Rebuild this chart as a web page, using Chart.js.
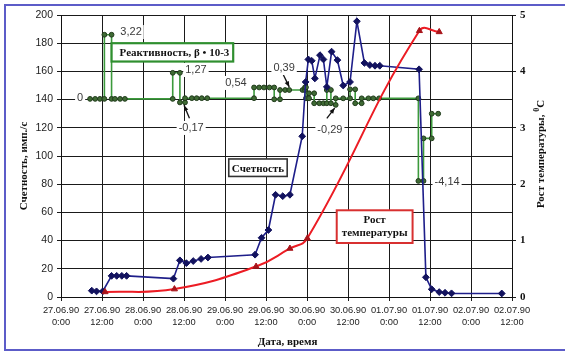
<!DOCTYPE html>
<html><head><meta charset="utf-8">
<script src="https://cdn.jsdelivr.net/npm/chart.js@4.4.0/dist/chart.umd.min.js"></script>
<style>html,body{margin:0;padding:0;background:#fff;}canvas{display:block;}</style>
</head><body>
<canvas id="c" width="565" height="354"></canvas>
<script>
// x values are hours since 27.06.90 0:00
const xDates = ['27.06.90','27.06.90','28.06.90','28.06.90','29.06.90','29.06.90','30.06.90','30.06.90','01.07.90','01.07.90','02.07.90','02.07.90'];
const xTimes = ['0:00','12:00','0:00','12:00','0:00','12:00','0:00','12:00','0:00','12:00','0:00','12:00'];

// Счетность, имп./c (left axis)
const countHours  = [9.0,10.4,12.2, 14.8,16.3,17.8,19.2, 32.9, 34.8,36.7,38.7,41.0,43.0, 56.8,58.7,60.7, 62.8,64.9,67.0, 70.6,
                     71.6,72.4,73.4,74.3,75.8,76.8,77.8,79.2,80.9,82.6,84.6,86.6, 88.8,90.4,91.9,93.3, 104.8,
                     106.8,108.5,110.7,112.4,114.3,129.0];
const countValues = [4.5,4.0,4.0, 15,15,15,15, 13, 26,24,25.5,27,28, 30,42,47.5, 72.5,71.5,72.5, 114,
                     152.5,168.5,167.5,155,171.5,168.5,149,174,168,150,152.5,195.5, 166,164.5,164,164, 161.5,
                     14,5.5,3.5,3.0,2.6,2.5];

// Рост температуры, °C (right axis)
const tempHours  = [12.9, 33.2, 57.1, 67.0, 72.1, 104.9, 110.7];
const tempValues = [0.09, 0.14, 0.54, 0.86, 1.04, 4.72, 4.70];

// Реактивность (drawn against the left axis)
const reactHours  = [8.5,10.0,11.4,12.7,12.7,14.8,14.8,15.8,17.3,18.7,
                     32.7,32.7,34.8,34.8,36.3,36.3,38.3,39.7,41.2,42.8,
                     56.5,56.5,58.0,59.4,61.0,62.4,62.4,64.1,64.1,65.6,66.8,70.7,
                     71.4,71.4,71.7,71.7,72.6,72.6,74.1,74.1,75.6,76.8,77.8,77.8,79.0,79.0,80.4,80.4,
                     82.6,84.6,84.6,86.1,86.1,88.0,88.0,90.0,91.4,93.1,
                     104.6,104.6,106.1,106.1,108.5,108.5,110.4];
const reactLevels = [140.5,140.5,140.5,140.5,186,186,140.5,140.5,140.5,140.5,
                     140.5,159,159,138,138,141,141,141,141,141,
                     141,148.6,148.6,148.6,148.6,148.6,140.2,140.2,146.8,146.8,146.8,146.8,
                     146.8,148.7,148.7,140.9,140.9,144.5,144.5,137.4,137.4,137.4,137.4,146.8,146.8,137.4,136.2,140.9,
                     140.9,140.9,147.3,147.3,137.4,137.4,140.9,140.9,140.9,140.9,
                     140.9,82.3,82.3,112.5,112.5,130,130];
const reactTexts = ['0','3,22','1,27','-0,17','0,54','0,39','-0,29','-4,14'];

// annotation placement (in data units)
const notePos = [[5.6,141.1],[20.5,187.9],[39.5,161],[38.1,119.9],[51.2,151.8],[65.3,162.4],[78.7,118.4],[113,81.6]];
const arrows = [[[37.6,126.7],[36.0,136.0]],[[65.1,157.4],[66.8,149.0]],[[77.8,126.7],[80.1,134.0]]];

const pts = (xs, ys) => xs.map((x,i)=>({x, y: ys[i]}));

const overlay = {
  id: 'overlay',
  afterDatasetsDraw(chart) {
    const ctx = chart.ctx, xs = chart.scales.x, ys = chart.scales.y;
    const X = h => xs.getPixelForValue(h), Y = v => ys.getPixelForValue(v);
    ctx.save();
    // arrows
    ctx.strokeStyle = '#111'; ctx.fillStyle = '#111'; ctx.lineWidth = 1.3;
    for (const [a,b] of arrows) {
      const x0 = X(a[0]), y0 = Y(a[1]), x1 = X(b[0]), y1 = Y(b[1]);
      const ang = Math.atan2(y1-y0, x1-x0);
      ctx.beginPath(); ctx.moveTo(x0,y0); ctx.lineTo(x1,y1); ctx.stroke();
      ctx.beginPath(); ctx.moveTo(x1,y1);
      ctx.lineTo(x1-6*Math.cos(ang-0.4), y1-6*Math.sin(ang-0.4));
      ctx.lineTo(x1-6*Math.cos(ang+0.4), y1-6*Math.sin(ang+0.4));
      ctx.closePath(); ctx.fill();
    }
    // value labels
    ctx.font = '11px "Liberation Sans", Arial, sans-serif';
    ctx.textAlign = 'center'; ctx.textBaseline = 'middle';
    reactTexts.forEach((t,i) => {
      const px = X(notePos[i][0]), py = Y(notePos[i][1]);
      const w = ctx.measureText(t).width;
      ctx.fillStyle = '#fff'; ctx.fillRect(px - w/2 - 2, py - 7, w + 4, 14);
      ctx.fillStyle = '#3a3a3a'; ctx.fillText(t, px, py);
    });
    // boxes
    const box = (h0,h1,v0,v1,color,lw) => {
      const x0 = X(h0), x1 = X(h1), y0 = Y(v1), y1 = Y(v0);
      ctx.fillStyle = '#fff'; ctx.fillRect(x0, y0, x1-x0, y1-y0);
      ctx.strokeStyle = color; ctx.lineWidth = lw; ctx.strokeRect(x0, y0, x1-x0, y1-y0);
      return [x0,y0,x1,y1];
    };
    ctx.font = 'bold 11px "Liberation Serif", "Times New Roman", serif';
    ctx.fillStyle = '#111';
    let b = box(14.8, 50.4, 167, 180, '#2f8f2f', 2.2);
    ctx.fillStyle = '#111'; ctx.textAlign = 'left';
    ctx.fillText('Реактивность, β • 10-3', b[0] + 8, (b[1]+b[3])/2 + 1);
    b = box(49.1, 66.2, 85.5, 97.9, '#333', 1.6);
    ctx.fillStyle = '#111'; ctx.textAlign = 'center';
    ctx.fillText('Счетность', (b[0]+b[2])/2, (b[1]+b[3])/2 + 1);
    b = box(80.7, 102.9, 38.3, 61.5, '#d83030', 2);
    ctx.fillStyle = '#111';
    ctx.fillText('Рост', (b[0]+b[2])/2, (b[1]+b[3])/2 - 6);
    ctx.fillText('температуры', (b[0]+b[2])/2, (b[1]+b[3])/2 + 7);
    ctx.restore();
  },
  afterDraw(chart) {
    const ctx = chart.ctx, ca = chart.chartArea;
    ctx.save();
    // outer frame
    ctx.strokeStyle = '#5c5cc8'; ctx.lineWidth = 2;
    ctx.beginPath(); ctx.moveTo(570, 5); ctx.lineTo(5, 5); ctx.lineTo(5, 350); ctx.lineTo(570, 350); ctx.stroke();
    // axis titles
    ctx.fillStyle = '#111';
    ctx.font = 'bold 11px "Liberation Serif", "Times New Roman", serif';
    ctx.textAlign = 'center'; ctx.textBaseline = 'middle';
    ctx.fillText('Дата, время', (ca.left+ca.right)/2 + 1, 342);
    ctx.save(); ctx.translate(24, 166); ctx.rotate(-Math.PI/2);
    ctx.fillText('Счетность, имп./c', 0, 0); ctx.restore();
    // right title with superscript
    ctx.save(); ctx.translate(541, 154); ctx.rotate(-Math.PI/2);
    const main = 'Рост температуры, ', sup = '0', end = 'С';
    const fMain = 'bold 11px "Liberation Serif", "Times New Roman", serif';
    const fSup = 'bold 8px "Liberation Serif", "Times New Roman", serif';
    ctx.font = fMain; const w1 = ctx.measureText(main).width, w3 = ctx.measureText(end).width;
    ctx.font = fSup; const w2 = ctx.measureText(sup).width;
    let x = -(w1+w2+w3)/2;
    ctx.textAlign = 'left';
    ctx.font = fMain; ctx.fillText(main, x, 0); x += w1;
    ctx.font = fSup; ctx.fillText(sup, x, -4); x += w2;
    ctx.font = fMain; ctx.fillText(end, x, 0);
    ctx.restore();
    ctx.restore();
  }
};

new Chart(document.getElementById('c'), {
  type: 'line',
  data: {
    datasets: [
      { label: 'Рост температуры', data: pts(tempHours, tempValues), yAxisID: 'y2', order: 1,
        borderColor: '#ec1c24', borderWidth: 2, tension: 0.45, fill: false,
        pointStyle: 'triangle', pointRadius: 3.5, pointBackgroundColor: '#a8141a', pointBorderColor: '#a8141a', pointBorderWidth: 1 },
      { label: 'Счетность', data: pts(countHours, countValues), yAxisID: 'y', order: 2,
        borderColor: '#1e1e8a', borderWidth: 1.6, tension: 0, fill: false,
        pointStyle: 'rectRot', pointRadius: 3.4, pointBackgroundColor: '#12125e', pointBorderColor: '#12125e', pointBorderWidth: 1 },
      { label: 'Реактивность', data: pts(reactHours, reactLevels), yAxisID: 'y', order: 3,
        borderColor: '#3c9a3c', borderWidth: 1.6, tension: 0, fill: false,
        pointStyle: 'circle', pointRadius: 2.4, pointBackgroundColor: '#3f6a34', pointBorderColor: '#1f3a1a', pointBorderWidth: 1 }
    ]
  },
  options: {
    responsive: false, devicePixelRatio: 1, animation: false,
    layout: { padding: { left: 0, right: 0, top: 15, bottom: 0 } },
    plugins: { legend: { display: false }, tooltip: { enabled: false } },
    scales: {
      x: {
        type: 'linear', min: 0, max: 132,
        afterFit: s => { s.height = 57; },
        afterBuildTicks: s => { s.ticks = xDates.map((_, i) => ({ value: i * 12 })); },
        ticks: { autoSkip: false, maxRotation: 0, padding: 3, color: '#222',
                 font: { family: '"Liberation Sans", Arial, sans-serif', size: 9.3, lineHeight: 1.35 },
                 callback: (v) => { const i = Math.round(v / 12); return [xDates[i], xTimes[i]]; } },
        grid: { color: '#1a1a1a', lineWidth: 1, tickLength: 4 },
        border: { color: '#111', width: 1 }
      },
      y: {
        position: 'left', min: 0, max: 200,
        afterFit: s => { s.width = 61; },
        ticks: { stepSize: 20, padding: 4, color: '#222',
                 font: { family: '"Liberation Sans", Arial, sans-serif', size: 10.5 } },
        grid: { color: '#1a1a1a', lineWidth: 1, tickLength: 4 },
        border: { color: '#111', width: 1 }
      },
      y2: {
        position: 'right', min: 0, max: 5,
        afterFit: s => { s.width = 53; },
        ticks: { stepSize: 1, padding: 4, color: '#111',
                 font: { family: '"Liberation Serif", "Times New Roman", serif', size: 11, weight: 'bold' } },
        grid: { drawOnChartArea: false, color: '#1a1a1a', tickLength: 4 },
        border: { color: '#111', width: 1 }
      }
    }
  },
  plugins: [overlay]
});
</script>
</body></html>
